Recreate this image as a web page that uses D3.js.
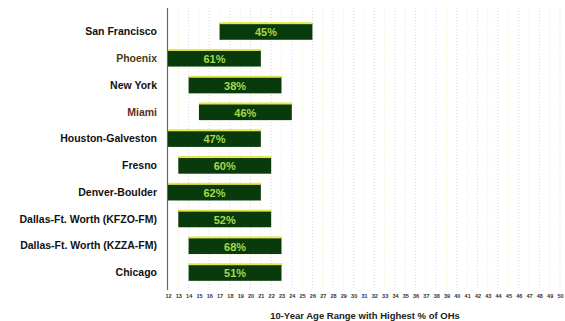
<!DOCTYPE html>
<html>
<head>
<meta charset="utf-8">
<script src="https://cdn.jsdelivr.net/npm/d3@7"></script>
<style>
  body { margin: 0; background: #fff; }
  svg { display: block; font-family: "Liberation Sans", Arial, sans-serif; }
</style>
</head>
<body>
<div id="chart"></div>
<script>
// 10-year age range with the highest share of OHs, per market
const markets = ["San Francisco", "Phoenix", "New York", "Miami", "Houston-Galveston",
  "Fresno", "Denver-Boulder", "Dallas-Ft. Worth (KFZO-FM)", "Dallas-Ft. Worth (KZZA-FM)", "Chicago"];
const rangeStart = [17, 12, 14, 15, 12, 13, 12, 13, 14, 14];
const rangeEnd = [26, 21, 23, 24, 21, 22, 21, 22, 23, 23];
const shares = ["45%", "61%", "38%", "46%", "47%", "60%", "62%", "52%", "68%", "51%"];
const labelColors = ["#111", "#4a3a12", "#111", "#5a2e1a", "#111", "#111", "#111", "#111", "#111", "#111"];
const ageTicks = [12, 13, 14, 15, 16, 17, 18, 19, 20, 21, 22, 23, 24, 25, 26, 27, 28, 29, 30, 31,
  32, 33, 34, 35, 36, 37, 38, 39, 40, 41, 42, 43, 44, 45, 46, 47, 48, 49, 50];

const W = 565, H = 321;
const svg = d3.select("#chart").append("svg")
  .attr("width", W)
  .attr("height", H);

const x = d3.scaleLinear()
  .domain([12, 50])
  .range([168, 560]);

const y = d3.scaleBand()
  .domain(markets)
  .range([13, 291])
  .padding(0.38);

const plotTop = 8, plotBottom = 290;

// dotted gridlines
svg.append("g")
  .selectAll("line")
  .data(ageTicks.slice(1))
  .join("line")
  .attr("x1", d => x(d))
  .attr("x2", d => x(d))
  .attr("y1", plotTop)
  .attr("y2", plotBottom)
  .attr("stroke", (d, i) => i % 2 ? "#d6d6d0" : "#ecebb8")
  .attr("stroke-width", 1)
  .attr("stroke-dasharray", "1,2");

// bottom axis (tick labels only)
const xAxis = svg.append("g")
  .attr("transform", `translate(0, ${plotBottom + 4})`)
  .call(d3.axisBottom(x).tickValues(ageTicks).tickSize(0).tickPadding(0));
xAxis.select(".domain").remove();
xAxis.selectAll("text")
  .attr("fill", "#333")
  .style("font-size", "5.5px")
  .style("font-weight", "bold");

// vertical axis line
svg.append("line")
  .attr("x1", x(12) - 0.5)
  .attr("x2", x(12) - 0.5)
  .attr("y1", plotTop)
  .attr("y2", plotBottom)
  .attr("stroke", "#7a6050")
  .attr("stroke-width", 1.2);

// category labels
svg.append("g")
  .selectAll("text")
  .data(markets)
  .join("text")
  .attr("x", 157)
  .attr("y", d => y(d) + y.bandwidth() / 2)
  .attr("dy", "0.35em")
  .attr("text-anchor", "end")
  .attr("fill", (d, i) => labelColors[i])
  .style("font-size", "10.5px")
  .style("font-weight", "bold")
  .text(d => d);

// range bars
const bars = svg.append("g")
  .selectAll("g")
  .data(markets)
  .join("g");

bars.append("rect")
  .attr("x", (d, i) => x(rangeStart[i]))
  .attr("y", d => y(d))
  .attr("width", (d, i) => x(rangeEnd[i]) - x(rangeStart[i]))
  .attr("height", y.bandwidth())
  .attr("fill", "#083a0c");

bars.append("rect")
  .attr("x", (d, i) => x(rangeStart[i]))
  .attr("y", d => y(d) - 1)
  .attr("width", (d, i) => x(rangeEnd[i]) - x(rangeStart[i]))
  .attr("height", 2)
  .attr("fill", "#e4e64a");

bars.append("text")
  .attr("x", (d, i) => (x(rangeStart[i]) + x(rangeEnd[i])) / 2)
  .attr("y", d => y(d) + y.bandwidth() / 2 + 1)
  .attr("dy", "0.35em")
  .attr("text-anchor", "middle")
  .attr("fill", "#a9d84c")
  .style("font-size", "11px")
  .style("font-weight", "bold")
  .text((d, i) => shares[i]);

// axis title
svg.append("text")
  .attr("x", 365)
  .attr("y", 319)
  .attr("text-anchor", "middle")
  .attr("fill", "#222")
  .style("font-size", "9.5px")
  .style("font-weight", "bold")
  .text("10-Year Age Range with Highest % of OHs");
</script>
</body>
</html>
